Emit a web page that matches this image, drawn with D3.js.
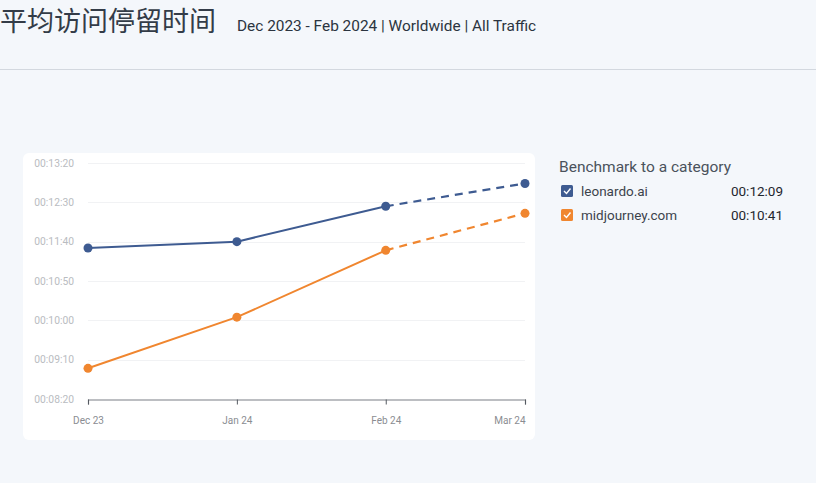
<!DOCTYPE html>
<html><head><meta charset="utf-8">
<script src="https://cdn.jsdelivr.net/npm/d3@7"></script>
<style>
html,body{margin:0;padding:0;background:#f4f7fb;}
svg{display:block;}
</style></head>
<body>
<svg id="c" width="816" height="483"></svg>
<script>
const months = ["2023-12-01","2024-01-01","2024-02-01","2024-03-01"];
const monthLabels = ["Dec 23","Jan 24","Feb 24","Mar 24"];
const leonardo = [692, 700, 745, 774];      // seconds
const midjourney = [539, 604, 689, 736];    // seconds
const yTicks = [500, 550, 600, 650, 700, 750, 800];
const seriesNames = ["leonardo.ai", "midjourney.com"];
const seriesTotals = ["00:12:09", "00:10:41"];
const seriesColors = ["#3e5b91", "#f0862f"];
const title = "平均访问停留时间";
const subtitle = "Dec 2023 - Feb 2024 | Worldwide | All Traffic";
const legendTitle = "Benchmark to a category";

const svg = d3.select("#c");
const parse = d3.timeParse("%Y-%m-%d");
const dates = months.map(parse);

// header
svg.append("text").attr("x", 0).attr("y", 31).text(title)
  .attr("font-family", "Noto Sans CJK SC, sans-serif").attr("font-size", 27).attr("fill", "#333c48");
svg.append("text").attr("x", 237).attr("y", 31).text(subtitle)
  .attr("font-family", "Roboto, sans-serif").attr("font-size", 15.4).attr("fill", "#2b3440");
svg.append("line").attr("x1", 0).attr("x2", 816).attr("y1", 69.5).attr("y2", 69.5)
  .attr("stroke", "#d3d8df").attr("stroke-width", 1);

// card
svg.append("rect").attr("x", 23).attr("y", 153).attr("width", 512).attr("height", 287)
  .attr("rx", 6).attr("fill", "#ffffff");

const x = d3.scaleTime().domain([dates[0], dates[3]]).range([88, 525]);
const y = d3.scaleLinear().domain([500, 800]).range([399, 163]);

const fmt = s => {
  const h = Math.floor(s / 3600), m = Math.floor((s % 3600) / 60), sec = Math.round(s % 60);
  return [h, m, sec].map(v => String(v).padStart(2, "0")).join(":");
};

// grid
const g = svg.append("g");
g.selectAll("line.grid").data(yTicks.slice(1)).join("line")
  .attr("x1", 88).attr("x2", 525)
  .attr("y1", d => Math.round(y(d)) + 0.5).attr("y2", d => Math.round(y(d)) + 0.5)
  .attr("stroke", "#f1f2f4");

// y labels
g.selectAll("text.yl").data(yTicks).join("text")
  .attr("x", 74).attr("y", d => y(d) + 3.5).attr("text-anchor", "end")
  .attr("font-family", "Roboto, sans-serif").attr("font-size", 10.3).attr("fill", "#b9bcc1")
  .text(d => fmt(d));

// x axis
const xAxis = d3.axisBottom(x).tickValues(dates).tickFormat((d, i) => monthLabels[i]).tickSize(5).tickPadding(12);
const ax = svg.append("g").attr("transform", "translate(0,399.5)").call(xAxis);
ax.select(".domain").attr("stroke", "#7b7f86").attr("stroke-width", 1.2);
ax.selectAll(".tick line").attr("stroke", "#555a61");
ax.selectAll(".tick text").attr("font-family", "Roboto, sans-serif").attr("font-size", 10).attr("fill", "#8a8d92");
ax.selectAll(".tick text").filter((d, i) => i === dates.length - 1).attr("text-anchor", "end").attr("x", 0);

// lines
const line = d3.line().x(d => x(d.date)).y(d => y(d.v));
[leonardo, midjourney].forEach((vals, si) => {
  const pts = vals.map((v, i) => ({date: dates[i], v}));
  svg.append("path").datum(pts.slice(0, 3)).attr("d", line)
    .attr("fill", "none").attr("stroke", seriesColors[si]).attr("stroke-width", 2);
  svg.append("path").datum(pts.slice(2)).attr("d", line)
    .attr("fill", "none").attr("stroke", seriesColors[si]).attr("stroke-width", 2.2)
    .attr("stroke-dasharray", "8,6");
  svg.selectAll(null).data(pts).join("circle")
    .attr("cx", d => x(d.date)).attr("cy", d => y(d.v)).attr("r", 4.5)
    .attr("fill", seriesColors[si]);
});

// legend
svg.append("text").attr("x", 559).attr("y", 172).text(legendTitle)
  .attr("font-family", "Roboto, sans-serif").attr("font-size", 15.5).attr("fill", "#4a525c");
seriesNames.forEach((name, i) => {
  const yy = 191 + i * 24;
  const lg = svg.append("g");
  lg.append("rect").attr("x", 561).attr("y", yy - 6).attr("width", 12).attr("height", 12)
    .attr("rx", 1.5).attr("fill", seriesColors[i]);
  lg.append("path").attr("d", `M${564},${yy} l2.5,2.5 l4,-5`)
    .attr("fill", "none").attr("stroke", "#fff").attr("stroke-width", 1.4);
  lg.append("text").attr("x", 581).attr("y", yy + 5).text(name)
    .attr("font-family", "Roboto, sans-serif").attr("font-size", 13.5).attr("fill", "#3c434c");
  lg.append("text").attr("x", 783).attr("y", yy + 5).attr("text-anchor", "end").text(seriesTotals[i])
    .attr("font-family", "Roboto, sans-serif").attr("font-size", 13.5).attr("fill", "#1f262e");
});
</script>
</body></html>
